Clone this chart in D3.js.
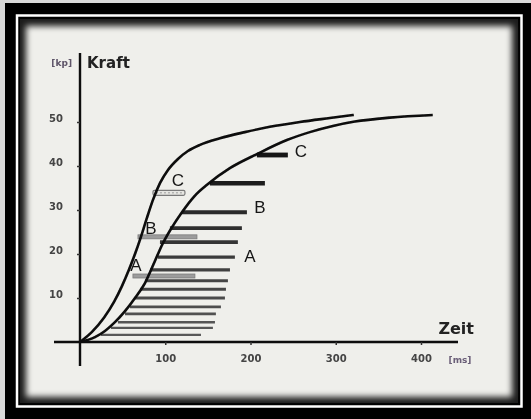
<!DOCTYPE html>
<html>
<head>
<meta charset="utf-8">
<script src="https://cdn.jsdelivr.net/npm/d3@7/dist/d3.min.js"></script>
<style>
  html, body { margin: 0; padding: 0; background: #d9d9d9; }
  svg { display: block; }
</style>
</head>
<body>
<svg id="chart" width="531" height="419"></svg>
<script>
// Axis ticks
const timeTicks = [100, 200, 300, 400];      // ms
const forceTicks = [10, 20, 30, 40, 50];     // kp

// Force-time curve, fast rise (left)
const fastTime  = [0, 14.1, 28.1, 39.9, 49.2, 57.4, 64.5, 71.5, 78.5, 85.6, 93.8, 103.2, 114.9, 126.6, 140.7, 164.1, 193.4, 222.7, 257.9, 293.1, 321.2];
const fastForce = [0, 2.3, 5.5, 9.1, 12.7, 16.4, 20.0, 23.9, 28.2, 32.3, 36.1, 39.1, 41.6, 43.4, 44.8, 46.3, 47.7, 48.9, 50.0, 50.9, 51.6];

// Force-time curve, slow rise (right)
const slowTime  = [0, 17.6, 29.3, 41.0, 52.8, 64.5, 76.2, 87.9, 96.1, 106.7, 119.6, 133.6, 150.1, 175.8, 207.5, 242.7, 269.6, 296.6, 322.4, 363.4, 413.8];
const slowForce = [0, 1.1, 2.5, 4.5, 7.0, 10.0, 13.4, 18.4, 22.0, 25.7, 29.5, 33.0, 35.9, 39.5, 42.7, 45.9, 47.7, 49.1, 50.1, 51.0, 51.6];

// Horizontal bars behind the slow curve
const barForce = [42.5, 36.1, 29.5, 25.9, 22.7, 19.3, 16.4, 13.9, 12.0, 10.0, 8.0, 6.4, 4.5, 3.2, 1.6];
const barStart = [207.5, 152.4, 119.6, 105.5, 93.8, 91.4, 82.1, 76.2, 70.3, 64.5, 58.6, 52.8, 44.5, 36.3, 24.6];
const barEnd   = [243.8, 216.9, 195.8, 189.9, 185.2, 181.7, 175.9, 173.5, 171.2, 170.0, 165.3, 159.4, 158.3, 155.9, 141.9];

// Stage bars A, B, C between the two curves
const stageName  = ['A', 'B', 'C'];
const stageForce = [15.0, 23.9, 33.9];
const stageStart = [62.1, 68.0, 85.6];
const stageEnd   = [134.8, 137.2, 123.1];

// Letter annotations
const labelText  = ['A', 'B', 'C', 'A', 'B', 'C'];
const labelTime  = [199.3, 211.0, 259.1, 65.7, 83.2, 114.9];
const labelForce = [19.5, 30.5, 43.2, 17.3, 25.9, 36.8];

const svg = d3.select('#chart');
const W = 531, H = 419;

const defs = svg.append('defs');
defs.append('filter').attr('id', 'edge')
  .attr('x', '-5%').attr('y', '-5%').attr('width', '110%').attr('height', '110%')
  .append('feGaussianBlur').attr('stdDeviation', 3);
defs.append('filter').attr('id', 'soft')
  .append('feGaussianBlur').attr('stdDeviation', 0.55);

// Frame: black mount, white rule, dark inner band, paper
svg.append('rect').attr('width', W).attr('height', H).attr('fill', '#d9d9d9');
svg.append('rect').attr('x', 5).attr('y', 3).attr('width', W - 5).attr('height', H - 3).attr('fill', '#000');
svg.append('rect').attr('x', 17).attr('y', 15.5).attr('width', 504.5).attr('height', 391)
  .attr('fill', 'none').attr('stroke', '#fff').attr('stroke-width', 2.5);
svg.append('rect').attr('x', 20).attr('y', 19).attr('width', 498).attr('height', 384).attr('fill', '#1c1c1c');
svg.append('rect').attr('x', 26).attr('y', 26).attr('width', 486).attr('height', 371)
  .attr('fill', '#efefeb').attr('filter', 'url(#edge)');

const x = d3.scaleLinear().domain([0, 400]).range([80, 421]);
const y = d3.scaleLinear().domain([0, 50]).range([342, 122]);

const g = svg.append('g').attr('filter', 'url(#soft)');

// Horizontal bars: thicker and darker with increasing force
const barWidth = d3.scaleLinear().domain([0, 45]).range([2.2, 5]);
const barColor = d3.scaleLinear().domain([0, 45]).range(['#5c5c5c', '#0e0e0e']);
g.append('g').selectAll('line').data(barForce).join('line')
  .attr('x1', (d, i) => x(barStart[i]))
  .attr('x2', (d, i) => x(barEnd[i]))
  .attr('y1', d => y(d)).attr('y2', d => y(d))
  .attr('stroke', d => barColor(d))
  .attr('stroke-width', d => barWidth(d));

// Stage bars
const stages = g.append('g');
stageName.forEach((n, i) => {
  const x0 = x(stageStart[i]), x1 = x(stageEnd[i]), yy = y(stageForce[i]);
  if (n === 'C') {
    stages.append('rect').attr('x', x0).attr('y', yy - 2.5).attr('width', x1 - x0).attr('height', 5)
      .attr('rx', 1.5).attr('fill', '#e6e6e2').attr('stroke', '#7a7a7a').attr('stroke-width', 1.2);
    stages.append('line').attr('x1', x0 + 3).attr('x2', x1 - 3).attr('y1', yy).attr('y2', yy)
      .attr('stroke', '#9a9a9a').attr('stroke-width', 1).attr('stroke-dasharray', '2,2');
  } else {
    stages.append('rect').attr('x', x0).attr('y', yy - 2).attr('width', x1 - x0).attr('height', 4)
      .attr('fill', '#9c9c9c').attr('stroke', '#7c7c7c').attr('stroke-width', 0.8);
  }
});

// Curves
const line = d3.line()
  .x(d => x(d[0])).y(d => y(d[1]))
  .curve(d3.curveMonotoneX);
g.append('path').datum(fastTime.map((t, i) => [t, fastForce[i]]))
  .attr('d', line).attr('fill', 'none').attr('stroke', '#0a0a0a').attr('stroke-width', 2.6);
g.append('path').datum(slowTime.map((t, i) => [t, slowForce[i]]))
  .attr('d', line).attr('fill', 'none').attr('stroke', '#0a0a0a').attr('stroke-width', 2.6);

// Axis lines
g.append('line').attr('x1', 54).attr('x2', 458).attr('y1', y(0)).attr('y2', y(0))
  .attr('stroke', '#111').attr('stroke-width', 2.4);
g.append('line').attr('x1', x(0)).attr('x2', x(0)).attr('y1', 53).attr('y2', 366)
  .attr('stroke', '#111').attr('stroke-width', 2.4);

// Ticks and tick labels
const xAxis = g.append('g').attr('transform', `translate(0,${y(0)})`)
  .call(d3.axisBottom(x).tickValues(timeTicks).tickSize(3).tickPadding(10));
xAxis.select('.domain').remove();
xAxis.selectAll('line').attr('stroke', '#333').attr('stroke-width', 1.5);
xAxis.selectAll('text').attr('font-family', 'DejaVu Sans').attr('font-weight', 'bold')
  .attr('font-size', 10).attr('fill', '#444');

const yAxis = g.append('g').attr('transform', `translate(${x(0)},0)`)
  .call(d3.axisLeft(y).tickValues(forceTicks).tickSize(3).tickPadding(14));
yAxis.select('.domain').remove();
yAxis.selectAll('line').attr('stroke', '#333').attr('stroke-width', 1.5);
yAxis.selectAll('text').attr('font-family', 'DejaVu Sans').attr('font-weight', 'bold')
  .attr('font-size', 10).attr('fill', '#444').attr('transform', 'translate(0,-4)');

// Axis titles and units
g.append('text').attr('x', 87).attr('y', 68).text('Kraft')
  .attr('font-family', 'DejaVu Sans').attr('font-weight', 'bold').attr('font-size', 15).attr('fill', '#222');
g.append('text').attr('x', 72).attr('y', 66).attr('text-anchor', 'end').text('[kp]')
  .attr('font-family', 'DejaVu Sans').attr('font-weight', 'bold').attr('font-size', 9).attr('fill', '#5e5468');
g.append('text').attr('x', 474).attr('y', 334).attr('text-anchor', 'end').text('Zeit')
  .attr('font-family', 'DejaVu Sans').attr('font-weight', 'bold').attr('font-size', 16).attr('fill', '#222');
g.append('text').attr('x', 460).attr('y', 363).attr('text-anchor', 'middle').text('[ms]')
  .attr('font-family', 'DejaVu Sans').attr('font-weight', 'bold').attr('font-size', 9).attr('fill', '#6a5e78');

// Letter annotations
g.append('g').selectAll('text').data(labelText).join('text')
  .attr('x', (d, i) => x(labelTime[i]))
  .attr('y', (d, i) => y(labelForce[i]))
  .attr('text-anchor', 'middle').attr('dominant-baseline', 'central')
  .attr('font-family', 'Liberation Sans').attr('font-size', 17).attr('fill', '#151515')
  .text(d => d);
</script>
</body>
</html>
